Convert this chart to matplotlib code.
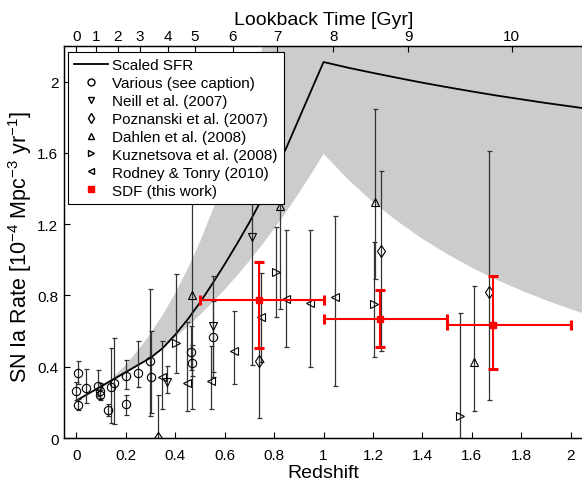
import matplotlib
matplotlib.use('Agg')
import matplotlib.pyplot as plt
from matplotlib.lines import Line2D
from matplotlib.ticker import FuncFormatter

plt.rcParams['font.family'] = ['Liberation Sans', 'DejaVu Sans']
plt.rcParams['mathtext.fontset'] = 'custom'
plt.rcParams['mathtext.rm'] = 'Liberation Sans'
plt.rcParams['mathtext.it'] = 'Liberation Sans:italic'

# scaled star formation history
sfr_z = [0.0, 0.05, 0.1, 0.15, 0.2, 0.25, 0.3, 0.35, 0.4, 0.45, 0.5, 0.55, 0.6, 0.65,
         0.7, 0.75, 0.8, 0.85, 0.9, 0.95, 1.0, 1.1, 1.2, 1.3, 1.4, 1.5, 1.6, 1.7,
         1.8, 1.9, 2.0, 2.05]
sfr_rate = [0.21, 0.25, 0.29, 0.33, 0.37, 0.41, 0.45, 0.505, 0.58, 0.665, 0.76, 0.865,
            0.975, 1.09, 1.21, 1.34, 1.48, 1.63, 1.79, 1.95, 2.11, 2.078, 2.049, 2.021,
            1.994, 1.969, 1.945, 1.922, 1.901, 1.88, 1.861, 1.851]

# grey uncertainty band around the SFR
band_z = [0.1, 0.15, 0.2, 0.25, 0.3, 0.35, 0.4, 0.45, 0.5, 0.55, 0.6, 0.65, 0.7, 0.75,
          0.8, 0.85, 0.9, 0.95, 1.0, 1.1, 1.2, 1.3, 1.4, 1.5, 1.6, 1.7, 1.8, 1.9,
          2.0, 2.05]
band_lo = [0.28, 0.319, 0.36, 0.406, 0.455, 0.508, 0.565, 0.626, 0.69, 0.76, 0.833,
           0.911, 0.994, 1.081, 1.174, 1.271, 1.374, 1.481, 1.595, 1.45, 1.324, 1.215,
           1.118, 1.032, 0.956, 0.888, 0.828, 0.773, 0.723, 0.70]
band_hi = [0.28, 0.341, 0.411, 0.493, 0.586, 0.692, 0.813, 0.949, 1.10, 1.275, 1.467,
           1.68, 1.92, 2.18, 2.5, 2.8, 3.0, 3.0, 3.0, 3.0, 3.0, 3.0, 3.0, 3.0, 3.0,
           3.0, 3.0, 3.0, 3.0, 3.0]

# various (see caption)
var_z = [0.0, 0.007, 0.008, 0.038, 0.089, 0.095, 0.095, 0.129, 0.139, 0.152, 0.20,
         0.202, 0.25, 0.298, 0.30, 0.463, 0.469, 0.552]
var_y = [0.266, 0.363, 0.185, 0.279, 0.294, 0.266, 0.242, 0.159, 0.285, 0.309, 0.35,
         0.191, 0.365, 0.434, 0.341, 0.481, 0.42, 0.569]
var_lo = [0.05, 0.06, 0.03, 0.08, 0.06, 0.04, 0.03, 0.035, 0.2, 0.23, 0.075, 0.06,
          0.08, 0.31, 0.2, 0.1, 0.07, 0.2]
var_hi = [0.05, 0.07, 0.035, 0.11, 0.09, 0.04, 0.03, 0.03, 0.22, 0.25, 0.085, 0.05,
          0.18, 0.40, 0.26, 0.15, 0.1, 0.2]

# Neill et al. (2007)
neill_z = [0.368, 0.552, 0.711]
neill_y = [0.313, 0.627, 1.13]
neill_lo = [0.06, 0.286, 0.72]
neill_hi = [0.093, 0.285, 0.5]

# Poznanski et al. (2007)
pozn_z = [0.33, 0.74, 1.234, 1.671]
pozn_y = [0.0, 0.431, 1.049, 0.818]
pozn_lo = [0.0, 0.32, 0.56, 0.605]
pozn_hi = [0.24, 0.56, 0.45, 0.79]

# Dahlen et al. (2008)
dahl_z = [0.469, 0.823, 1.21, 1.61]
dahl_y = [0.80, 1.30, 1.324, 0.425]
dahl_lo = [0.64, 0.575, 0.43, 0.275]
dahl_hi = [0.7, 0.5, 0.52, 0.43]

# Kuznetsova et al. (2008)
kuzn_z = [0.404, 0.806, 1.203, 1.553]
kuzn_y = [0.534, 0.93, 0.753, 0.122]
kuzn_lo = [0.17, 0.25, 0.30, 0.122]
kuzn_hi = [0.386, 0.255, 0.347, 0.578]

# Rodney & Tonry (2010)
rod_z = [0.347, 0.449, 0.546, 0.637, 0.748, 0.85, 0.947, 1.048]
rod_y = [0.34, 0.309, 0.318, 0.49, 0.678, 0.78, 0.758, 0.79]
rod_lo = [0.177, 0.156, 0.155, 0.187, 0.25, 0.27, 0.36, 0.496]
rod_hi = [0.207, 0.34, 0.2, 0.225, 0.25, 0.385, 0.41, 0.455]

# SDF (this work)
sdf_z = [0.74, 1.23, 1.685]
sdf_y = [0.775, 0.67, 0.637]
sdf_zlo = [0.24, 0.23, 0.185]
sdf_zhi = [0.26, 0.27, 0.315]
sdf_lo = [0.27, 0.16, 0.247]
sdf_hi = [0.215, 0.158, 0.275]

# lookback time axis: tick labels and their redshifts
lookback_gyr = [0, 1, 2, 3, 4, 5, 6, 7, 8, 9, 10]
lookback_z = [0.0, 0.081, 0.168, 0.258, 0.369, 0.479, 0.632, 0.812, 1.04, 1.342, 1.762]

fig = plt.figure(figsize=(5.82, 4.81), dpi=100)
ax = fig.add_axes([0.110, 0.0873, 0.8918, 0.815])

ax.fill_between(band_z, band_lo, band_hi, color='#cccccc', lw=0, zorder=1)
ax.plot(sfr_z, sfr_rate, color='k', lw=1.3, zorder=2)

bar_style = dict(fmt='none', ecolor='0.2', elinewidth=0.9, capsize=1.8, capthick=0.9, zorder=3)
mk_style = dict(ls='none', mfc='none', mec='k', mew=0.8, ms=6, zorder=4)

series = [
    (var_z, var_y, var_lo, var_hi, 'o'),
    (neill_z, neill_y, neill_lo, neill_hi, 'v'),
    (pozn_z, pozn_y, pozn_lo, pozn_hi, 'd'),
    (dahl_z, dahl_y, dahl_lo, dahl_hi, '^'),
    (kuzn_z, kuzn_y, kuzn_lo, kuzn_hi, '>'),
    (rod_z, rod_y, rod_lo, rod_hi, '<'),
]
for z, y, lo, hi, m in series:
    ax.errorbar(z, y, yerr=[lo, hi], **bar_style)
    ax.plot(z, y, marker=m, **mk_style)

ax.errorbar(sdf_z, sdf_y, xerr=[sdf_zlo, sdf_zhi], yerr=[sdf_lo, sdf_hi], fmt='s',
            color='red', ms=5, elinewidth=1.5, capsize=3.5, capthick=2.2, zorder=5)

ax.set_xlim(-0.05, 2.05)
ax.set_ylim(0, 2.2)
ax.set_xticks([0, 0.2, 0.4, 0.6, 0.8, 1, 1.2, 1.4, 1.6, 1.8, 2])
ax.set_yticks([0, 0.4, 0.8, 1.2, 1.6, 2])
fmt = FuncFormatter(lambda v, p: '%g' % v)
ax.xaxis.set_major_formatter(fmt)
ax.yaxis.set_major_formatter(fmt)
ax.tick_params(direction='in', length=4, width=0.8, labelsize=11, top=False, right=False)
ax.tick_params(axis='x', pad=7)
ax.tick_params(axis='y', pad=4)
for s in ax.spines.values():
    s.set_linewidth(1.0)

ax.set_xlabel('Redshift', fontsize=14)
ax.xaxis.set_label_coords(0.5, -0.066)
ax.set_ylabel('SN Ia Rate [10$^{-4}$ Mpc$^{-3}$ yr$^{-1}$]', fontsize=15.5)
ax.yaxis.set_label_coords(-0.058, 0.49)

ax2 = ax.twiny()
ax2.set_xlim(ax.get_xlim())
ax2.set_xticks(lookback_z)
ax2.set_xticklabels([str(v) for v in lookback_gyr])
ax2.tick_params(direction='in', length=4, width=0.8, labelsize=11, pad=2)
ax2.set_xlabel('Lookback Time [Gyr]', fontsize=14)
ax2.xaxis.set_label_coords(0.5, 1.055)

handles = [
    Line2D([], [], color='k', lw=1.3, label='Scaled SFR'),
    Line2D([], [], ls='none', marker='o', mfc='none', mec='k', ms=5, label='Various (see caption)'),
    Line2D([], [], ls='none', marker='v', mfc='none', mec='k', ms=5, label='Neill et al. (2007)'),
    Line2D([], [], ls='none', marker='d', mfc='none', mec='k', ms=5, label='Poznanski et al. (2007)'),
    Line2D([], [], ls='none', marker='^', mfc='none', mec='k', ms=5, label='Dahlen et al. (2008)'),
    Line2D([], [], ls='none', marker='>', mfc='none', mec='k', ms=5, label='Kuznetsova et al. (2008)'),
    Line2D([], [], ls='none', marker='<', mfc='none', mec='k', ms=5, label='Rodney & Tonry (2010)'),
    Line2D([], [], ls='none', marker='s', color='red', ms=5, label='SDF (this work)'),
]
leg = ax.legend(handles=handles, loc='upper left', bbox_to_anchor=(0.008, 0.985),
                borderaxespad=0, fontsize=11, frameon=True, fancybox=False,
                framealpha=1, edgecolor='k', handlelength=2.2, handletextpad=0.3,
                labelspacing=0.26, borderpad=0.4)
leg.get_frame().set_linewidth(0.8)
leg.set_zorder(10)

fig.savefig('out.png', dpi=100)
